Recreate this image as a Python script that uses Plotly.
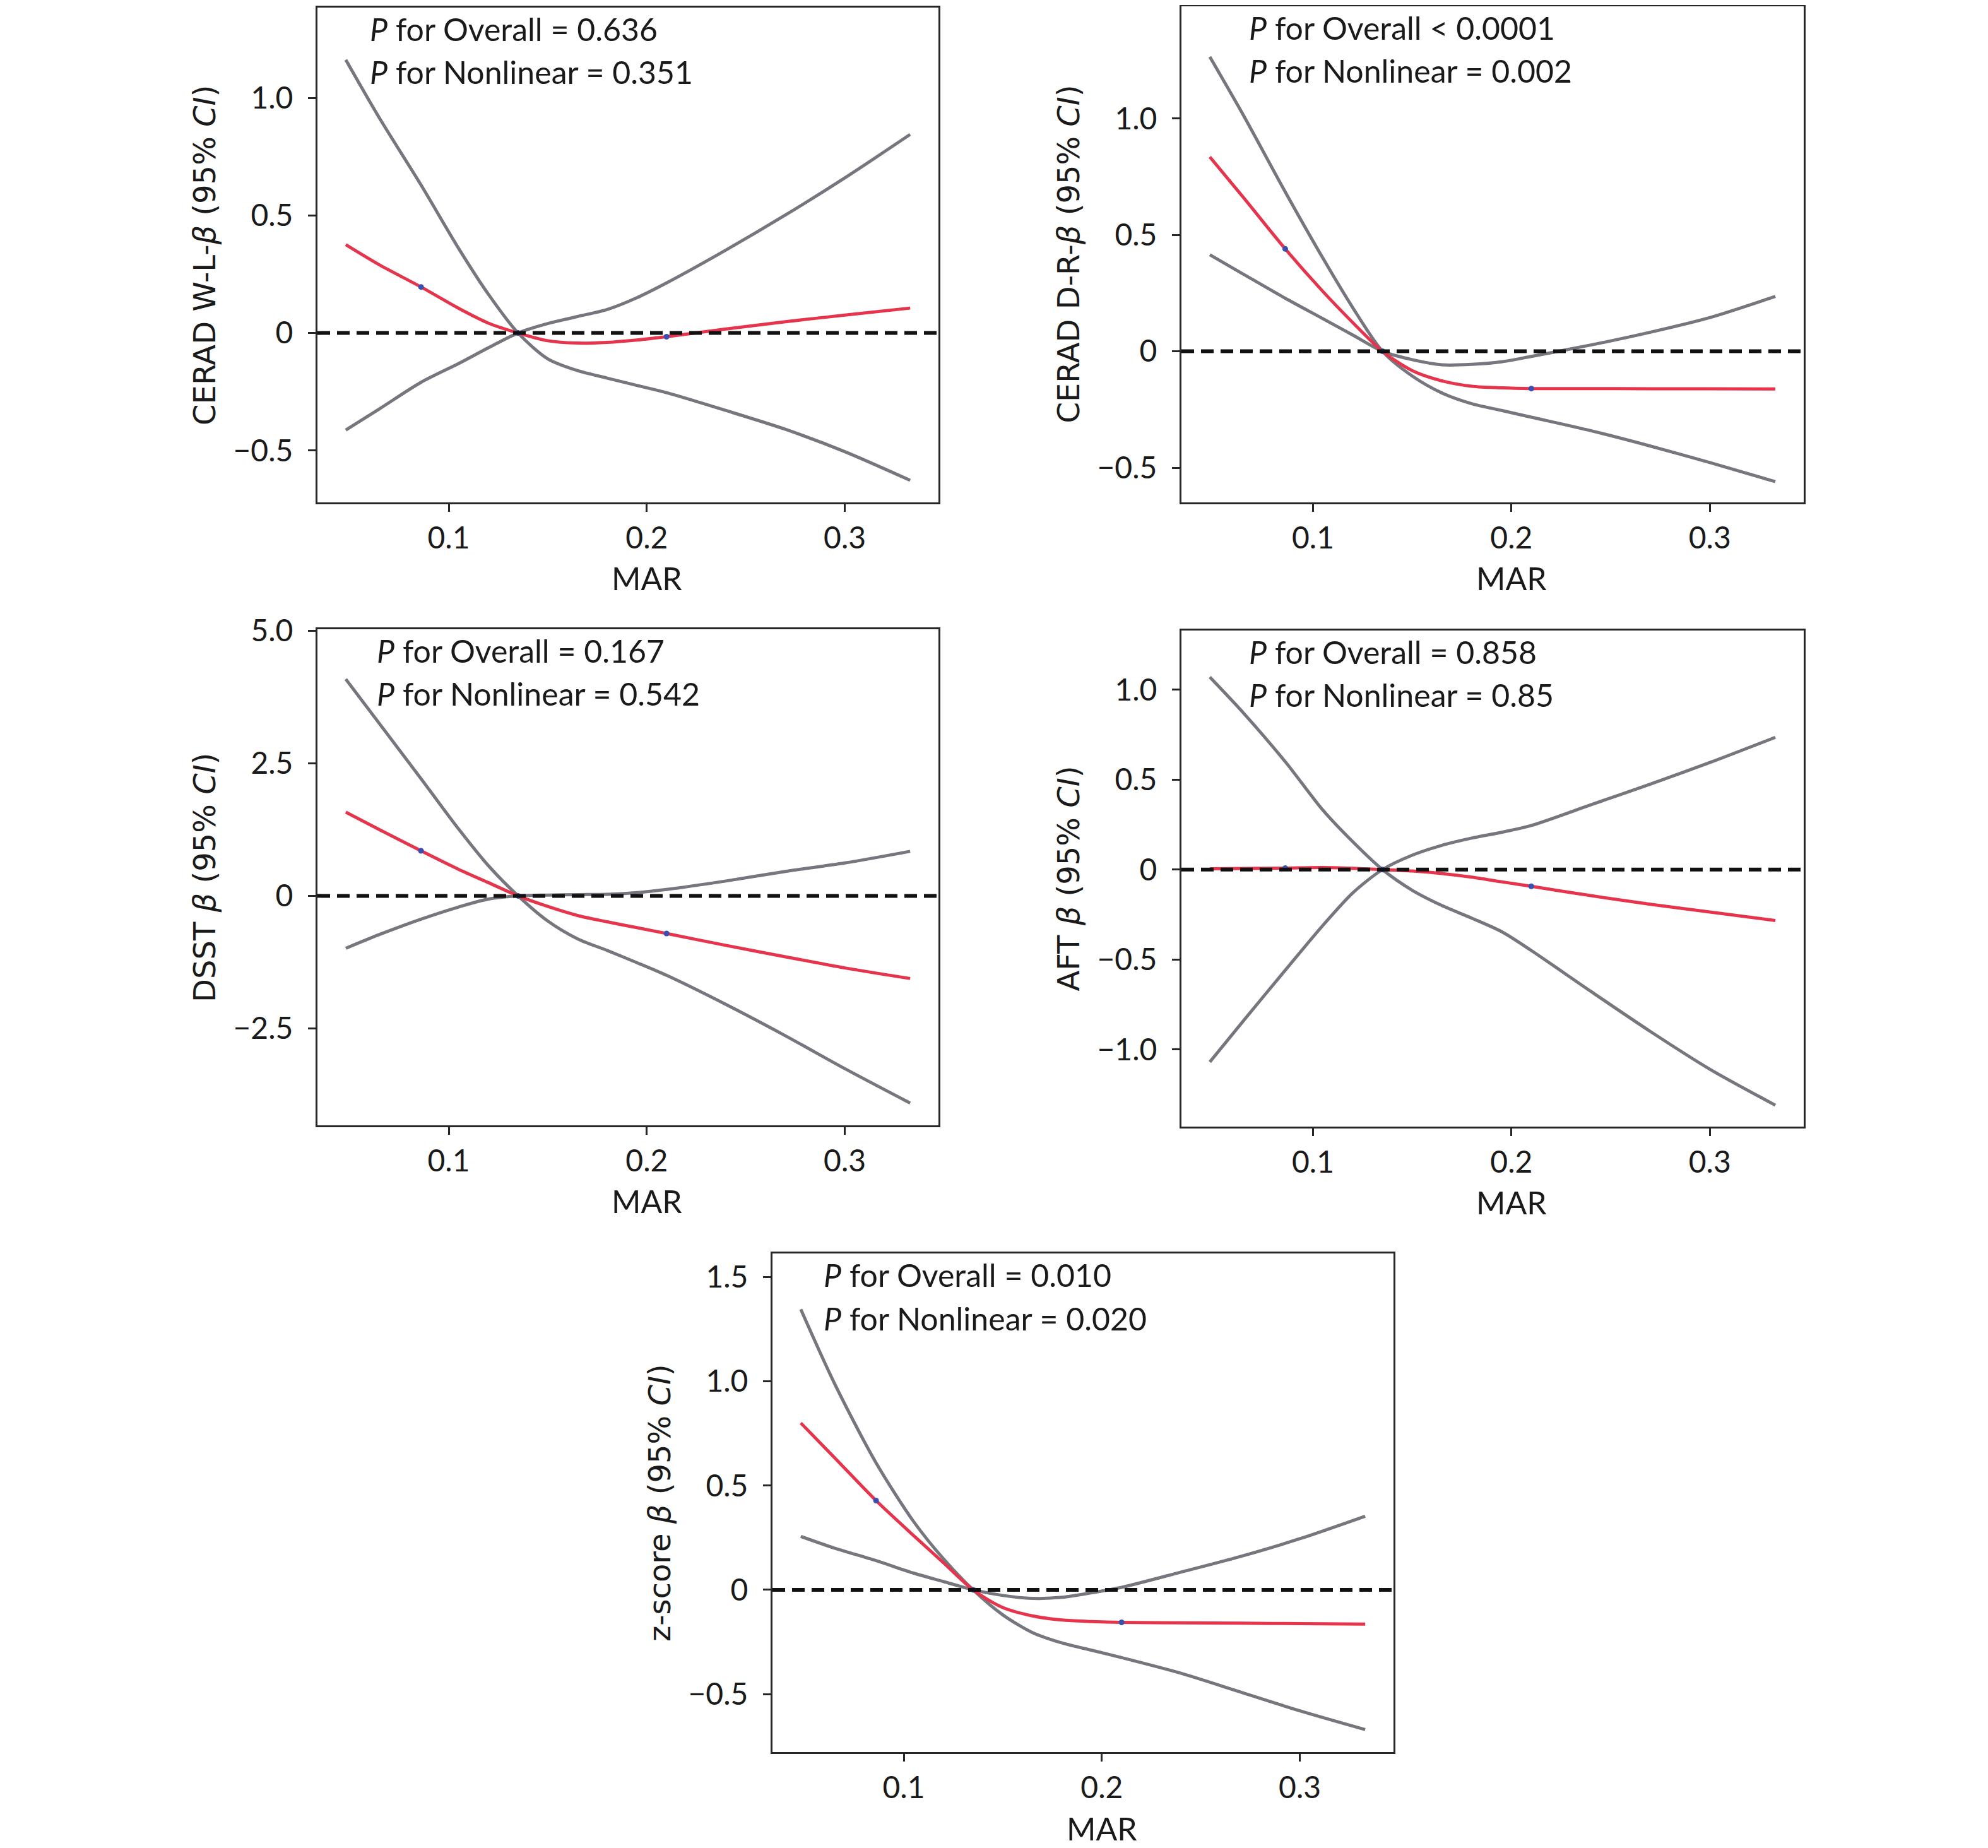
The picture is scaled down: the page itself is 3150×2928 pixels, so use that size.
import plotly.graph_objects as go

# MAR grid (knots at 0.086, 0.135, 0.21)
mar = [0.048, 0.065, 0.086, 0.105, 0.12, 0.135, 0.15, 0.165, 0.18, 0.195, 0.21, 0.24, 0.27, 0.30, 0.333]
knot_idx = [2, 5, 10]

# CERAD W-L
wl_fit = [0.376, 0.29, 0.196, 0.105, 0.042, 0, -0.033, -0.043, -0.040, -0.030, -0.016, 0.017, 0.048, 0.076, 0.106]
wl_ci_a = [1.163, 0.915, 0.63, 0.36, 0.165, 0, -0.11, -0.16, -0.192, -0.223, -0.254, -0.33, -0.41, -0.505, -0.627]
wl_ci_b = [-0.413, -0.323, -0.21, -0.13, -0.063, 0, 0.04, 0.07, 0.10, 0.15, 0.213, 0.353, 0.502, 0.66, 0.845]

# CERAD D-R
dr_fit = [0.835, 0.66, 0.44, 0.257, 0.124, 0, -0.083, -0.127, -0.150, -0.157, -0.160, -0.160, -0.161, -0.161, -0.162]
dr_ci_a = [1.265, 1.013, 0.685, 0.40, 0.188, 0, -0.106, -0.179, -0.225, -0.254, -0.283, -0.341, -0.407, -0.478, -0.56]
dr_ci_b = [0.415, 0.331, 0.228, 0.14, 0.07, 0, -0.036, -0.058, -0.056, -0.045, -0.022, 0.027, 0.082, 0.145, 0.236]

# DSST
dsst_fit = [1.58, 1.25, 0.85, 0.50, 0.25, 0, -0.20, -0.37, -0.49, -0.60, -0.71, -0.935, -1.15, -1.36, -1.56]
dsst_ci_a = [4.09, 3.25, 2.21, 1.26, 0.57, 0, -0.475, -0.81, -1.03, -1.26, -1.50, -2.05, -2.64, -3.26, -3.91]
dsst_ci_b = [-0.99, -0.73, -0.44, -0.21, -0.06, 0, 0.015, 0.024, 0.028, 0.06, 0.12, 0.28, 0.46, 0.62, 0.84]

# AFT
aft_fit = [0.004, 0.006, 0.008, 0.011, 0.007, 0, -0.008, -0.022, -0.042, -0.068, -0.093, -0.145, -0.193, -0.236, -0.283]
aft_ci_a = [1.07, 0.87, 0.60, 0.33, 0.155, 0, -0.115, -0.20, -0.27, -0.345, -0.45, -0.677, -0.90, -1.11, -1.31]
aft_ci_b = [-1.07, -0.84, -0.56, -0.31, -0.13, 0, 0.08, 0.135, 0.175, 0.207, 0.245, 0.36, 0.475, 0.595, 0.735]

# z-score
z_fit = [0.80, 0.634, 0.428, 0.26, 0.13, 0, -0.085, -0.125, -0.145, -0.152, -0.156, -0.158, -0.160, -0.162, -0.164]
z_ci_a = [1.345, 0.99, 0.609, 0.327, 0.149, 0, -0.12, -0.205, -0.255, -0.29, -0.325, -0.40, -0.49, -0.58, -0.67]
z_ci_b = [0.256, 0.20, 0.14, 0.08, 0.04, 0, -0.027, -0.041, -0.036, -0.014, 0.012, 0.085, 0.16, 0.245, 0.353]

x_ticks = [0.1, 0.2, 0.3]
x_ticktext = ["0.1", "0.2", "0.3"]

panels = [
    dict(fit=wl_fit, a=wl_ci_a, b=wl_ci_b, label="CERAD W-L-<i>β</i> (95% <i>CI</i>)",
         p1="<i>P</i> for Overall = 0.636", p2="<i>P</i> for Nonlinear = 0.351",
         yt=[-0.5, 0, 0.5, 1.0], ytt=["\u22120.5", "0", "0.5", "1.0"], yr=[-0.721, 1.385],
         dom=(495, 1479, 4, 788), tx=0.082),
    dict(fit=dr_fit, a=dr_ci_a, b=dr_ci_b, label="CERAD D-R-<i>β</i> (95% <i>CI</i>)",
         p1="<i>P</i> for Overall &lt; 0.0001", p2="<i>P</i> for Nonlinear = 0.002",
         yt=[-0.5, 0, 0.5, 1.0], ytt=["\u22120.5", "0", "0.5", "1.0"], yr=[-0.649, 1.482],
         dom=(1864, 2850, 2, 788), tx=0.106),
    dict(fit=dsst_fit, a=dsst_ci_a, b=dsst_ci_b, label="DSST <i>β</i> (95% <i>CI</i>)",
         p1="<i>P</i> for Overall = 0.167", p2="<i>P</i> for Nonlinear = 0.542",
         yt=[-2.5, 0, 2.5, 5.0], ytt=["\u22122.5", "0", "2.5", "5.0"], yr=[-4.33, 5.03],
         dom=(495, 1479, 989, 1775), tx=0.094),
    dict(fit=aft_fit, a=aft_ci_a, b=aft_ci_b, label="AFT <i>β</i> (95% <i>CI</i>)",
         p1="<i>P</i> for Overall = 0.858", p2="<i>P</i> for Nonlinear = 0.85",
         yt=[-1.0, -0.5, 0, 0.5, 1.0], ytt=["\u22121.0", "\u22120.5", "0", "0.5", "1.0"], yr=[-1.429, 1.329],
         dom=(1864, 2850, 991, 1777), tx=0.106),
    dict(fit=z_fit, a=z_ci_a, b=z_ci_b, label="z-score <i>β</i> (95% <i>CI</i>)",
         p1="<i>P</i> for Overall = 0.010", p2="<i>P</i> for Nonlinear = 0.020",
         yt=[-0.5, 0, 0.5, 1.0, 1.5], ytt=["\u22120.5", "0", "0.5", "1.0", "1.5"], yr=[-0.778, 1.613],
         dom=(1216, 2200, 1978, 2768), tx=0.080),
]

W, H = 3150, 2928
GRAY = "#76767e"
RED = "#e5344c"
DOT = "#3a4fb0"
INK = "#1a1a1a"
SANS = "Lato, Open Sans, sans-serif"
TICK_FONT = dict(family=SANS, size=48, color=INK)

fig = go.Figure()
layout = dict(width=W, height=H, margin=dict(l=0, r=0, t=0, b=0, autoexpand=False),
              paper_bgcolor="white", plot_bgcolor="white", showlegend=False)
annotations = []
shapes = []

for i, p in enumerate(panels, start=1):
    xa = "x" if i == 1 else f"x{i}"
    ya = "y" if i == 1 else f"y{i}"
    x0, x1, y0, y1 = p["dom"]

    for key in ("a", "b"):
        fig.add_trace(go.Scatter(x=mar, y=p[key], mode="lines", xaxis=xa, yaxis=ya,
                                 line=dict(color=GRAY, width=5, shape="spline", smoothing=0.8),
                                 hoverinfo="skip"))
    fig.add_trace(go.Scatter(x=mar, y=p["fit"], mode="lines", xaxis=xa, yaxis=ya,
                             line=dict(color=RED, width=5, shape="spline", smoothing=0.8)))
    fig.add_trace(go.Scatter(x=[mar[k] for k in knot_idx], y=[p["fit"][k] for k in knot_idx],
                             mode="markers", xaxis=xa, yaxis=ya,
                             marker=dict(color=DOT, size=9)))

    axis_common = dict(showline=True, linecolor="#262626", linewidth=3, mirror=True,
                       ticks="outside", ticklen=12, tickwidth=3, tickcolor="#262626",
                       showgrid=False, zeroline=False, automargin=False, tickfont=TICK_FONT)
    layout["xaxis" if i == 1 else f"xaxis{i}"] = dict(
        domain=[x0 / W, x1 / W], range=[0.0337, 0.3473], anchor=ya,
        tickvals=x_ticks, ticktext=x_ticktext, ticklabelstandoff=0, **axis_common)
    layout["yaxis" if i == 1 else f"yaxis{i}"] = dict(
        domain=[1 - y1 / H, 1 - y0 / H], range=p["yr"], anchor=xa,
        tickvals=p["yt"], ticktext=p["ytt"], ticklabelstandoff=14, **axis_common)

    # reference line at beta = 0
    shapes.append(dict(type="line", xref=f"{xa} domain", yref=ya, x0=0, x1=1, y0=0, y1=0,
                       line=dict(color="#111111", width=6, dash="20px,11px"), layer="above"))

    # P-value text
    for txt, yy in ((p["p1"], 0.957), (p["p2"], 0.870)):
        annotations.append(dict(text=txt, xref=f"{xa} domain", yref=f"{ya} domain",
                                x=p["tx"], y=yy, xanchor="left", yanchor="middle", showarrow=False,
                                font=dict(family=SANS, size=50, color=INK)))
    # axis titles
    annotations.append(dict(text="MAR", xref=xa, yref=f"{ya} domain", x=0.2, y=-0.153,
                            xanchor="center", yanchor="middle", showarrow=False,
                            font=dict(family=SANS, size=50, color=INK)))
    annotations.append(dict(text=p["label"], xref=f"{xa} domain", yref=f"{ya} domain",
                            x=-0.182, y=0.5, xanchor="center", yanchor="middle", textangle=-90,
                            showarrow=False,
                            font=dict(family="DejaVu Sans, sans-serif", size=48, color=INK)))

layout["annotations"] = annotations
layout["shapes"] = shapes
fig.update_layout(**layout)

fig.write_html("out.html")
